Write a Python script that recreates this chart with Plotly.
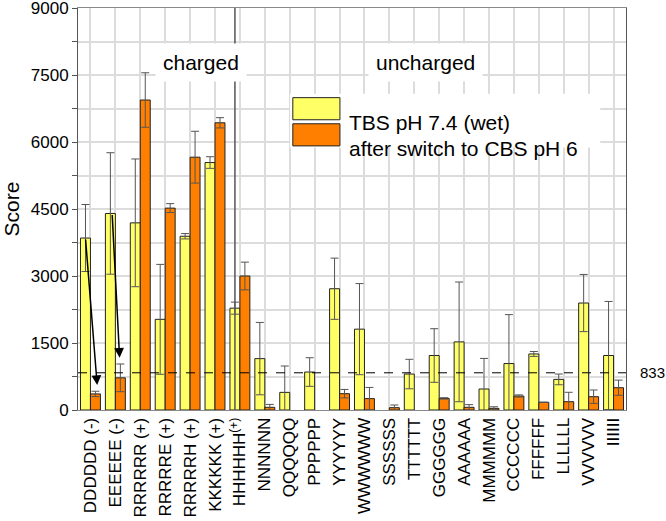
import plotly.graph_objects as go

# peptide categories along the x axis
categories = [
    "DDDDDD (-)", "EEEEEE (-)", "RRRRRR (+)", "RRRRRE (+)", "RRRRRH (+)",
    "KKKKKK (+)", "HHHHHH<sup>(+)</sup>", "NNNNNN", "QQQQQQ", "PPPPPP",
    "YYYYYY", "WWWWWW", "SSSSSS", "TTTTTT", "GGGGGG", "AAAAAA", "MMMMMM",
    "CCCCCC", "FFFFFF", "LLLLLL", "VVVVVV", "IIIIII",
]

# TBS pH 7.4 (wet)
tbs_score = [3850, 4400, 4190, 2030, 3890, 5540, 2280, 1150, 395, 850, 2715,
             1810, None, 805, 1220, 1525, 470, 1040, 1255, 685, 2395, 1220]
tbs_err = [750, 1360, 1430, 1230, 60, 130, 135, 810, 590, 320, 685,
           1020, 0, 330, 600, 1340, 685, 1095, 55, 120, 640, 1210]

# after switch to CBS pH 6
cbs_score = [360, 720, 6940, 4520, 5660, 6430, 3000, 60, None, None, 365,
             255, 52, None, 260, 60, 37, 313, 172, 186, 298, 499]
cbs_err = [60, 310, 610, 100, 580, 115, 310, 65, 0, 0, 95,
           250, 60, 0, 15, 60, 35, 25, 0, 210, 150, 170]

threshold = 833

FONT = "Liberation Sans, Arial, sans-serif"
YELLOW = "#ffff66"
ORANGE = "#ff8000"
GRID = "#dcdcdc"

fig = go.Figure()
fig.add_trace(go.Bar(
    x=categories, y=tbs_score, name="TBS pH 7.4 (wet)",
    marker=dict(color=YELLOW, line=dict(color="#222", width=1)),
    error_y=dict(type="data", array=tbs_err, color="#555", thickness=1, width=4),
))
fig.add_trace(go.Bar(
    x=categories, y=cbs_score, name="after switch to CBS pH 6",
    marker=dict(color=ORANGE, line=dict(color="#222", width=1)),
    error_y=dict(type="data", array=cbs_err, color="#555", thickness=1, width=4),
))

# charged / uncharged divider
fig.add_shape(type="line", xref="x", yref="paper", x0=5.8, x1=5.8, y0=0, y1=1,
              line=dict(color="#555", width=1.5), layer="above")
# threshold line
fig.add_shape(type="line", xref="paper", yref="y", x0=0, x1=1, y0=threshold, y1=threshold,
              line=dict(color="#000", width=1, dash="dash"), layer="above")
fig.add_annotation(xref="paper", yref="y", x=1, xshift=12, y=threshold, text=str(threshold),
                   showarrow=False, xanchor="left", font=dict(size=15, color="#000"))

# arrows from TBS to CBS for the negatively charged peptides
for i, dx in [(0, 0.47), (1, 0.37)]:
    fig.add_annotation(
        x=i - 0.2 + dx, y=cbs_score[i] + cbs_err[i] + 140,
        ax=i - 0.2 + (0 if i == 0 else 0.07), ay=tbs_score[i],
        xref="x", yref="y", axref="x", ayref="y",
        text="", showarrow=True, arrowhead=2, arrowsize=1.3, arrowwidth=1.5,
        arrowcolor="#000",
    )

# group labels
for label, xp in [("charged", 0.1405), ("uncharged", 0.635)]:
    fig.add_annotation(xref="paper", yref="paper", x=xp, y=0.913, text=label,
                       showarrow=False, bgcolor="white", borderpad=7,
                       font=dict(size=21, color="#000"))

# hand-made legend with big swatches
fig.add_shape(type="rect", xref="paper", yref="paper", x0=0.387, x1=0.953,
              y0=0.653, y1=0.787, fillcolor="white", line=dict(width=0), layer="above")
for name, color, y0, y1 in [("TBS pH 7.4 (wet)", YELLOW, 0.722, 0.777),
                            ("after switch to CBS pH 6", ORANGE, 0.657, 0.712)]:
    fig.add_shape(type="rect", xref="paper", yref="paper", x0=0.392, x1=0.478,
                  y0=y0, y1=y1, fillcolor=color, line=dict(color="#222", width=1),
                  layer="above")
    fig.add_annotation(xref="paper", yref="paper", x=0.491, y=(y0 + y1) / 2,
                       text=name, showarrow=False, xanchor="left",
                       font=dict(size=21, color="#000"))

fig.update_layout(
    width=666, height=521,
    margin=dict(l=78, r=40, t=8, b=111, autoexpand=False),
    barmode="group", bargap=0.2, bargroupgap=0,
    showlegend=False,
    plot_bgcolor="white", paper_bgcolor="white",
    font=dict(family=FONT, size=17, color="#000"),
)
fig.update_xaxes(
    automargin=False,
    tickangle=-90, showgrid=True, gridcolor=GRID, gridwidth=1.5,
    showline=True, linecolor="#888", mirror=True,
    tickfont=dict(size=17),
)
fig.update_yaxes(
    automargin=False, ticklabeloverflow="allow",
    range=[0, 9000], dtick=1500, showgrid=True, gridcolor=GRID, gridwidth=1.5,
    minor=dict(dtick=750, showgrid=True, gridcolor=GRID, gridwidth=1.5,
               ticks="outside", ticklen=5, tickcolor="#555"),
    ticks="outside", ticklen=5, tickcolor="#555",
    showline=True, linecolor="#555", mirror=True, zeroline=False,
    title=dict(text="Score", font=dict(size=21), standoff=8),
    tickfont=dict(size=17),
)

# drop the default page margin so the figure sits at the window corner
fig.write_html("out.html", config={"displayModeBar": False},
               post_script="document.body.style.margin='0';")
